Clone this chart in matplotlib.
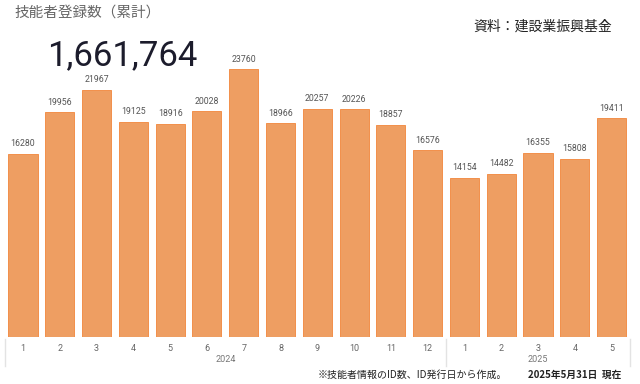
import matplotlib
matplotlib.use('Agg')
import matplotlib.pyplot as plt
import matplotlib.transforms as mtransforms

plt.rcParams['font.family'] = ['Noto Sans CJK JP', 'DejaVu Sans']

# monthly registrations
months = ['1', '2', '3', '4', '5', '6', '7', '8', '9', '10', '11', '12', '1', '2', '3', '4', '5']
values = [16280, 19956, 21967, 19125, 18916, 20028, 23760, 18966, 20257, 20226,
          18857, 16576, 14154, 14482, 16355, 15808, 19411]
years = ['2024', '2025']
year_spans = [(0, 11), (12, 16)]
total_label = '1,661,764'

W, H = 640, 384
fig = plt.figure(figsize=(W / 100, H / 100), dpi=100)
fig.patch.set_facecolor('white')

ax = fig.add_axes([4.6 / W, (H - 337.3) / H, 625.4 / W, 297.3 / H])
x = list(range(len(values)))
bars = ax.bar(x, values, width=0.79, color='#EE9E62', edgecolor='#F2904A', linewidth=0.7)
ax.set_xlim(-0.5, len(values) - 0.5)
ax.set_ylim(0, 26357)

for xi, v in zip(x, values):
    ax.text(xi, v + 500, str(v), ha='center', va='bottom', fontsize=6.3,
            color='#555555', family='Roboto')

for s in ax.spines.values():
    s.set_visible(False)
ax.set_yticks([])
ax.set_xticks(x)
ax.set_xticklabels(months, fontsize=6.5, color='#666666', family='Roboto')
ax.tick_params(axis='x', length=0, pad=5)

# year labels and separators below axis
trans = mtransforms.blended_transform_factory(ax.transData, ax.transAxes)
y_top = -1.7 / 297.3
y_bot = -28.5 / 297.3
for sep in [-0.48, 11.5, 16.5]:
    ax.plot([sep, sep], [y_top, y_bot], transform=trans, color='#E3E3E3',
            linewidth=1, clip_on=False)
for yr, (a, b) in zip(years, year_spans):
    ax.text((a + b) / 2, -22 / 297.3, yr, transform=trans, ha='center', va='center',
            fontsize=6.5, color='#777777', family='Roboto')

fig.text(14 / W, 1 - 13 / H, '技能者登録数（累計）', fontsize=10.5, color='#666666',
         ha='left', va='center')
fig.text(47 / W, 1 - 65 / H, total_label, fontsize=25, color='#1C1C2C',
         ha='left', va='baseline', family='Roboto')
fig.text(612 / W, 1 - 27 / H, '資料：建設業振興基金', fontsize=10, color='#222222',
         ha='right', va='center')
fig.text(318 / W, 1 - 375 / H, '※技能者情報のID数、ID発行日から作成。', fontsize=7.2,
         color='#222222', ha='left', va='center')
fig.text(621 / W, 1 - 375 / H, '2025年5月31日  現在', fontsize=7, color='#222222',
         ha='right', va='center', fontweight='bold')

fig.savefig('out.png', dpi=100)
